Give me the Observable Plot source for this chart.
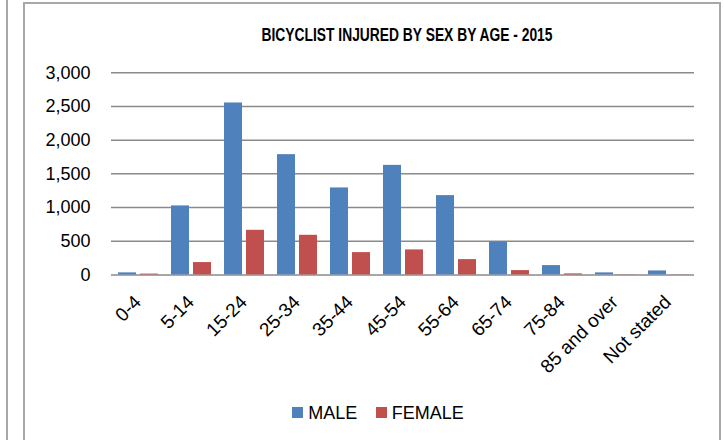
<!DOCTYPE html>
<html>
<head>
<meta charset="utf-8">
<script src="https://cdn.jsdelivr.net/npm/d3@7"></script>
<script src="https://cdn.jsdelivr.net/npm/@observablehq/plot@0.6"></script>
<style>
  html, body { margin: 0; padding: 0; background: #fff; }
  #page { position: relative; width: 724px; height: 440px; overflow: hidden; font-family: "Liberation Sans", Arial, sans-serif; color: #000; }
  #leftline { position: absolute; left: 5px; top: 0; width: 1px; height: 440px; border-right: 2px solid #a8a8a8; }
  #frame { position: absolute; left: 23px; top: 2px; width: 694px; height: 500px; border: 2px solid #a8a8a8; }
  #title { position: absolute; left: 107px; width: 600px; top: 23px; text-align: center; font-weight: bold; font-size: 17.5px; line-height: 24px; transform: scaleX(0.79); transform-origin: 300px 0; }
  #chart { position: absolute; left: 0; top: 0; }
  #legend { position: absolute; top: 402px; left: 0; width: 724px; height: 22px; font-size: 18px; }
  .sw { position: absolute; top: 4.7px; width: 11px; height: 11px; }
  .lab { position: absolute; top: 0; line-height: 22px; }
</style>
</head>
<body>
<div id="page">
  <div id="leftline"></div>
  <div id="frame"></div>
  <div id="title">BICYCLIST INJURED BY SEX BY AGE - 2015</div>
  <div id="chart"></div>
  <div id="legend"></div>
</div>
<script>
const categories = ["0-4","5-14","15-24","25-34","35-44","45-54","55-64","65-74","75-84","85 and over","Not stated"];
const sexes = ["MALE", "FEMALE"];
const male   = [30, 1024, 2552, 1785, 1291, 1626, 1177, 490, 138, 30, 59];
const female = [12, 183, 662, 588, 331, 371, 227, 64, 15, 3, 2];
const yTicks = [0, 500, 1000, 1500, 2000, 2500, 3000];
const colors = ["#4F81BD", "#C0504D"];

const rows = [];
categories.forEach((c, i) => {
  rows.push({age: c, sex: "MALE", value: male[i]});
  rows.push({age: c, sex: "FEMALE", value: female[i]});
});

const chart = Plot.plot({
  width: 724,
  height: 400,
  marginLeft: 107,
  marginRight: 27,
  marginTop: 72.3,
  marginBottom: 125.6,
  style: {fontFamily: "'Liberation Sans', Arial, sans-serif", color: "#000", background: "transparent", overflow: "visible"},
  fx: {domain: categories, padding: 0, label: null},
  x: {domain: sexes, paddingInner: 0.2, paddingOuter: 0.29, axis: null},
  y: {domain: [0, 3000], axis: null},
  color: {domain: sexes, range: colors},
  marks: [
    Plot.ruleY(yTicks, {stroke: "#8a8a8a", strokeWidth: 1.5}),
    Plot.barY(rows, {fx: "age", x: "sex", y: "value", fill: "sex"}),
    Plot.axisFx({anchor: "bottom", tickRotate: -45, tickSize: 0, tickPadding: 24, fontSize: 19, label: null}),
    Plot.axisY({ticks: yTicks, tickFormat: d3.format(","), tickSize: 0, tickPadding: 21, fontSize: 18, label: null})
  ]
});
document.getElementById("chart").appendChild(chart);

// legend
const legend = document.getElementById("legend");
const items = [{x: 291.7, tx: 308.3}, {x: 375.7, tx: 391.7}];
sexes.forEach((s, i) => {
  const sw = document.createElement("div");
  sw.className = "sw";
  sw.style.left = items[i].x + "px";
  sw.style.background = colors[i];
  legend.appendChild(sw);
  const lab = document.createElement("div");
  lab.className = "lab";
  lab.style.left = items[i].tx + "px";
  lab.textContent = s;
  legend.appendChild(lab);
});
</script>
</body>
</html>
